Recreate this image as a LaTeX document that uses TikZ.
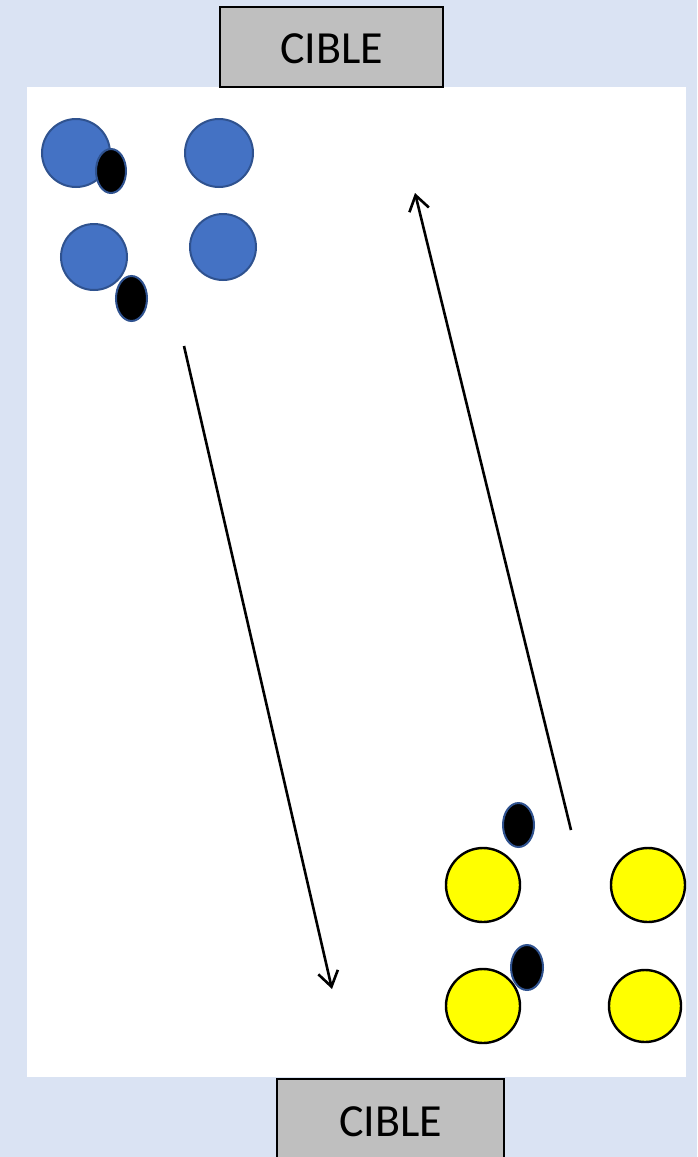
\documentclass[tikz,border=0pt]{standalone}
\usepackage{fontspec}
\setmainfont{Carlito}
\usetikzlibrary{shapes.geometric,arrows.meta}
\definecolor{bgblue}{HTML}{DAE3F3}
\definecolor{ballblue}{HTML}{4472C4}
\definecolor{ballborder}{HTML}{2F528F}
\definecolor{boxgray}{HTML}{BFBFBF}
\definecolor{ballyellow}{HTML}{FFFF00}
\tikzset{
  ciblebox/.style={draw=black, line width=2pt, fill=boxgray, inner sep=0pt, font=\fontsize{46}{46}\selectfont},
  blueball/.style={circle, draw=ballborder, line width=2pt, fill=ballblue, inner sep=0pt},
  yellowball/.style={circle, draw=black, line width=2.4pt, fill=ballyellow, inner sep=0pt},
  puck/.style={ellipse, draw=ballborder, line width=2pt, fill=black, inner sep=0pt},
  passarrow/.style={line width=2.6pt, -{Straight Barb[length=15pt,width=20pt,line width=2.6pt]}}
}
\begin{document}
\begin{tikzpicture}[x=1pt,y=-1pt]
\useasboundingbox (0,0) rectangle (697,1157);
\fill[bgblue] (0,0) rectangle (697,1157);
\fill[white] (27,87) rectangle (686,1077);
% target boxes
\node[ciblebox, minimum width=223pt, minimum height=80pt] (top) at (331.5,47) {};
\node at (331.5,49) [font=\fontsize{46}{46}\selectfont] (toplabel) {CIBLE};
\node[ciblebox, minimum width=227pt, minimum height=90pt] (bottom) at (390.5,1124) {};
\node at (390.5,1122) [font=\fontsize{46}{46}\selectfont] (bottomlabel) {CIBLE};
% blue team
\node[blueball, minimum size=68pt] (b1) at (76,153) {};
\node[blueball, minimum size=68pt] (b2) at (219,153) {};
\node[blueball, minimum size=66pt] (b3) at (94,257) {};
\node[blueball, minimum size=66pt] (b4) at (223,247) {};
\node[puck, minimum width=30pt, minimum height=44pt] (p1) at (111,171) {};
\node[puck, minimum width=31pt, minimum height=45pt] (p2) at (131.5,298.5) {};
% yellow team
\node[yellowball, minimum size=74pt] (y1) at (483,885) {};
\node[yellowball, minimum size=74pt] (y2) at (648,885) {};
\node[yellowball, minimum size=74pt] (y3) at (483,1006) {};
\node[yellowball, minimum size=72pt] (y4) at (645,1006) {};
\node[puck, minimum width=31pt, minimum height=44pt] (p3) at (518.5,825) {};
\node[puck, minimum width=32pt, minimum height=45pt] (p4) at (527,967.5) {};
% passes
\coordinate (a1s) at (184,346);
\coordinate (a1e) at (332,989);
\coordinate (a2s) at (571,830);
\coordinate (a2e) at (415,193);
\draw[passarrow] (a1s) -- (a1e);
\draw[passarrow] (a2s) -- (a2e);
\end{tikzpicture}
\end{document}
